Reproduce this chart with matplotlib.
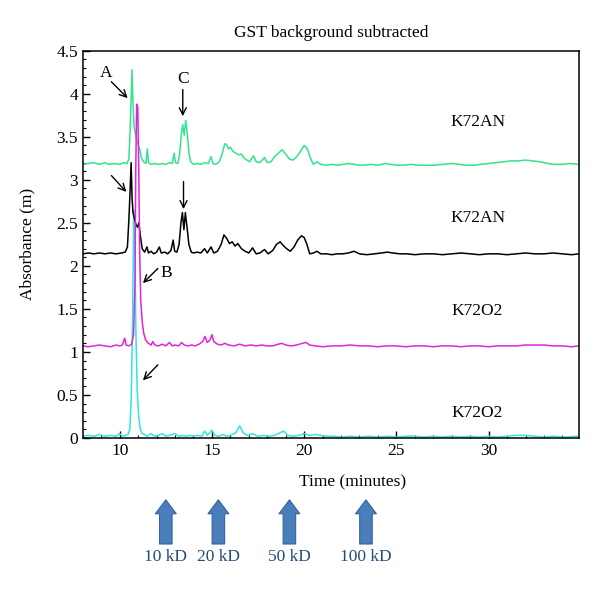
import matplotlib
matplotlib.use("Agg")
import matplotlib.pyplot as plt
from matplotlib.ticker import MultipleLocator

plt.rcParams["font.family"] = ["Liberation Serif", "DejaVu Serif"]
plt.rcParams["font.size"] = 12.5

# 트레이스 데이터
green_x = [8.0, 8.3, 8.6, 8.9, 9.2, 9.4, 9.7, 10.0, 10.2, 10.4, 10.5, 10.56, 10.62, 10.67, 10.71,
           10.78, 10.88, 10.98, 11.08, 11.18, 11.3, 11.42, 11.5, 11.56, 11.7, 11.9, 12.1, 12.3, 12.5,
           12.7, 12.85, 12.95, 13.02, 13.15, 13.25, 13.35, 13.42, 13.5, 13.58, 13.66, 13.75, 13.85,
           14.0, 14.2, 14.4, 14.6, 14.8, 14.95, 15.05, 15.2, 15.4, 15.55, 15.7, 15.8, 15.9, 16.0,
           16.15, 16.3, 16.45, 16.6, 16.75, 16.9, 17.05, 17.25, 17.4, 17.6, 17.85, 18.0, 18.2, 18.4,
           18.6, 18.8, 19.0, 19.2, 19.4, 19.6, 19.8, 20.0, 20.15, 20.35, 20.5, 20.7, 20.9, 21.2, 21.5,
           21.8, 22.1, 22.4, 22.7, 23.0, 23.3, 23.6, 24.0, 24.4, 24.7, 25.0, 25.4, 25.8, 26.2, 26.6,
           27.0, 27.5, 28.0, 28.4, 28.8, 29.2, 29.6, 30.0, 30.4, 30.8, 31.2, 31.6, 32.0, 32.4, 32.8,
           33.2, 33.6, 34.0, 34.4, 34.9]
green_y = [3.18, 3.19, 3.20, 3.18, 3.20, 3.18, 3.19, 3.18, 3.20, 3.19, 3.25, 3.55, 3.95, 4.28, 3.95,
           3.62, 3.50, 3.42, 3.36, 3.25, 3.21, 3.19, 3.36, 3.20, 3.18, 3.19, 3.18, 3.19, 3.18,
           3.20, 3.19, 3.31, 3.20, 3.19, 3.30, 3.55, 3.64, 3.52, 3.69, 3.55, 3.32, 3.21,
           3.18, 3.19, 3.18, 3.20, 3.19, 3.27, 3.19, 3.18, 3.21, 3.30, 3.42, 3.41, 3.36, 3.38,
           3.33, 3.31, 3.29, 3.30, 3.25, 3.23, 3.21, 3.28, 3.21, 3.20, 3.26, 3.20, 3.21, 3.27,
           3.31, 3.35, 3.30, 3.24, 3.23, 3.27, 3.33, 3.40, 3.37, 3.25, 3.18, 3.21, 3.18, 3.17, 3.18,
           3.17, 3.18, 3.19, 3.18, 3.17, 3.17, 3.18, 3.17, 3.19, 3.18, 3.17, 3.17, 3.18, 3.17, 3.17,
           3.17, 3.18, 3.19, 3.18, 3.17, 3.17, 3.18, 3.19, 3.20, 3.21, 3.22, 3.22, 3.23, 3.22, 3.21,
           3.19, 3.18, 3.18, 3.19, 3.18]

black_x = [8.0, 8.3, 8.6, 8.9, 9.2, 9.5, 9.8, 10.1, 10.3, 10.42, 10.5, 10.56, 10.62, 10.67, 10.72,
           10.8, 10.88, 10.96, 11.04, 11.12, 11.22, 11.35, 11.48, 11.56, 11.7, 11.85, 12.0, 12.15,
           12.25, 12.45, 12.6, 12.78, 12.9, 12.98, 13.1, 13.22, 13.32, 13.4, 13.48, 13.56, 13.65,
           13.75, 13.88, 14.0, 14.2, 14.4, 14.6, 14.75, 14.95, 15.1, 15.3, 15.5, 15.65, 15.8, 15.95,
           16.1, 16.25, 16.4, 16.6, 16.8, 17.0, 17.2, 17.4, 17.6, 17.85, 18.05, 18.3, 18.5, 18.7,
           18.85, 19.05, 19.25, 19.45, 19.65, 19.85, 20.0, 20.15, 20.3, 20.5, 20.7, 20.9, 21.2, 21.5,
           21.8, 22.1, 22.4, 22.7, 23.0, 23.4, 23.8, 24.2, 24.5, 24.8, 25.2, 25.6, 26.0, 26.5, 27.0,
           27.5, 28.0, 28.5, 29.0, 29.5, 30.0, 30.5, 31.0, 31.5, 32.0, 32.5, 33.0, 33.5, 34.0, 34.5,
           34.9]
black_y = [2.14, 2.15, 2.14, 2.15, 2.14, 2.15, 2.14, 2.15, 2.16, 2.22, 2.55, 2.85, 3.20, 2.80, 2.62,
           2.55, 2.48, 2.45, 2.50, 2.35, 2.20, 2.16, 2.22, 2.15, 2.17, 2.14, 2.16, 2.22,
           2.15, 2.16, 2.14, 2.18, 2.30, 2.17, 2.16, 2.25, 2.50, 2.62, 2.42, 2.62, 2.45,
           2.25, 2.16, 2.15, 2.16, 2.15, 2.20, 2.15, 2.22, 2.15, 2.17, 2.25, 2.36, 2.32, 2.26,
           2.28, 2.23, 2.26, 2.20, 2.17, 2.15, 2.21, 2.14, 2.15, 2.19, 2.14, 2.18, 2.25, 2.28,
           2.24, 2.20, 2.17, 2.22, 2.30, 2.35, 2.33, 2.25, 2.14, 2.15, 2.17, 2.14, 2.14, 2.13,
           2.14, 2.14, 2.15, 2.17, 2.14, 2.13, 2.14, 2.15, 2.16, 2.15, 2.14, 2.14, 2.13, 2.14, 2.14,
           2.13, 2.14, 2.15, 2.14, 2.13, 2.14, 2.14, 2.13, 2.14, 2.15, 2.14, 2.14, 2.15, 2.14, 2.13,
           2.14]

magenta_x = [8.0, 8.3, 8.6, 8.9, 9.2, 9.5, 9.8, 10.0, 10.15, 10.27, 10.35, 10.5, 10.65, 10.75, 10.83,
             10.87, 10.92, 10.98, 11.03, 11.08, 11.14, 11.22, 11.3, 11.4, 11.55, 11.7, 11.8, 11.9,
             12.1, 12.3, 12.5, 12.7, 12.85, 13.0, 13.2, 13.35, 13.5, 13.7, 13.9, 14.1, 14.3, 14.5,
             14.62, 14.75, 14.9, 15.0, 15.1, 15.3, 15.5, 15.7, 15.9, 16.2, 16.5, 16.8, 17.1, 17.4,
             17.7, 18.0, 18.3, 18.6, 18.8, 19.0, 19.3, 19.6, 19.9, 20.1, 20.3, 20.6, 21.0, 21.5, 22.0,
             22.5, 23.0, 23.5, 24.0, 24.5, 25.0, 25.5, 26.0, 26.5, 27.0, 27.5, 28.0, 28.5, 29.0, 29.5,
             30.0, 30.5, 31.0, 31.5, 32.0, 32.5, 33.0, 33.5, 34.0, 34.5, 34.9]
magenta_y = [1.07, 1.06, 1.07, 1.08, 1.07, 1.06, 1.08, 1.07, 1.08, 1.16, 1.08, 1.07, 1.09, 1.20, 1.80,
             3.10, 3.88, 3.85, 3.20, 2.20, 1.60, 1.35, 1.22, 1.14, 1.10, 1.08, 1.12, 1.08,
             1.07, 1.09, 1.07, 1.11, 1.07, 1.08, 1.07, 1.11, 1.08, 1.07, 1.08, 1.07, 1.09, 1.12,
             1.18, 1.11, 1.14, 1.20, 1.12, 1.09, 1.08, 1.10, 1.08, 1.07, 1.09, 1.07, 1.08, 1.07,
             1.08, 1.07, 1.07, 1.09, 1.10, 1.08, 1.07, 1.08, 1.10, 1.11, 1.08, 1.07, 1.06, 1.07, 1.07,
             1.08, 1.07, 1.07, 1.06, 1.07, 1.07, 1.06, 1.07, 1.07, 1.06, 1.07, 1.07, 1.06, 1.07, 1.07,
             1.06, 1.07, 1.07, 1.07, 1.08, 1.08, 1.08, 1.07, 1.07, 1.06, 1.07]

cyan_x = [8.0, 8.3, 8.6, 8.9, 9.2, 9.5, 9.8, 10.0, 10.15, 10.3, 10.45, 10.55, 10.63, 10.7, 10.76,
          10.82, 10.88, 10.95, 11.03, 11.12, 11.22, 11.35, 11.5, 11.7, 11.9, 12.1, 12.3, 12.5, 12.7,
          13.0, 13.2, 13.4, 13.6, 13.8, 14.0, 14.2, 14.45, 14.6, 14.75, 15.0, 15.15, 15.4, 15.6,
          15.8, 16.0, 16.3, 16.5, 16.7, 16.9, 17.2, 17.5, 17.8, 18.1, 18.4, 18.7, 18.9, 19.1, 19.4,
          19.7, 20.0, 20.3, 20.6, 20.9, 21.2, 21.6, 22.0, 22.5, 23.0, 23.5, 24.0, 24.5, 25.0, 25.5,
          26.0, 26.5, 27.0, 27.5, 28.0, 28.5, 29.0, 29.5, 30.0, 30.5, 31.0, 31.5, 32.0, 32.5, 33.0,
          33.5, 34.0, 34.9]
cyan_y = [0.02, 0.03, 0.02, 0.04, 0.02, 0.03, 0.02, 0.05, 0.02, 0.03, 0.04, 0.10, 0.50, 1.40, 2.65,
          2.30, 1.20, 0.55, 0.25, 0.10, 0.05, 0.04, 0.02, 0.05, 0.02, 0.03, 0.05, 0.02, 0.03,
          0.05, 0.02, 0.03, 0.02, 0.03, 0.02, 0.03, 0.02, 0.08, 0.03, 0.09, 0.03, 0.02, 0.04,
          0.02, 0.03, 0.06, 0.14, 0.06, 0.03, 0.05, 0.02, 0.03, 0.02, 0.03, 0.06, 0.08, 0.03, 0.02,
          0.03, 0.05, 0.03, 0.04, 0.03, 0.02, 0.02, 0.01, 0.02, 0.01, 0.02, 0.01, 0.02, 0.01, 0.02,
          0.02, 0.01, 0.02, 0.01, 0.02, 0.01, 0.02, 0.01, 0.02, 0.01, 0.02, 0.03, 0.03, 0.02, 0.01,
          0.02, 0.01, 0.02]

trace_labels = ["K72AN", "K72AN", "K72O2", "K72O2"]
label_y = [3.67, 2.56, 1.48, 0.29]

marker_x = [12.5, 15.35, 19.2, 23.35]
marker_labels = ["10 kD", "20 kD", "50 kD", "100 kD"]

y_ticks = [0, 0.5, 1, 1.5, 2, 2.5, 3, 3.5, 4, 4.5]
y_ticklabels = ["0", "0.5", "1", "1.5", "2", "2.5", "3", "3.5", "4", "4.5"]

fig = plt.figure(figsize=(6, 5.91), dpi=100)
ax = fig.add_axes([0.138, 0.259, 0.827, 0.655])

ax.plot(cyan_x, cyan_y, color="#35E3E3", lw=1.1)
ax.plot(black_x, black_y, color="black", lw=1.1)
ax.plot(green_x, green_y, color="#33E38D", lw=1.1)
ax.plot(magenta_x, magenta_y, color="#E024DC", lw=1.1)

ax.set_xlim(8, 34.9)
ax.set_ylim(0, 4.5)
ax.set_xticks([10, 15, 20, 25, 30])
ax.set_yticks(y_ticks)
ax.set_yticklabels(y_ticklabels)
ax.xaxis.set_minor_locator(MultipleLocator(1))
ax.yaxis.set_minor_locator(MultipleLocator(0.1))
ax.tick_params(which="both", direction="in", top=False, right=False, labelsize=12.5)
ax.tick_params(which="major", length=5, width=1)
ax.tick_params(which="minor", length=2.5, width=0.8)
for sp in ax.spines.values():
    sp.set_linewidth(1.1)

ax.set_title("GST background subtracted", fontsize=12.5, pad=10)
ax.set_xlabel("Time (minutes)", fontsize=12.5)
ax.xaxis.set_label_coords(0.544, -0.095)
ax.set_ylabel("Absorbance (m)", fontsize=12.5)
ax.yaxis.set_label_coords(-0.095, 0.5)

# 트레이스 이름
for lab, yy in zip(trace_labels, label_y):
    ax.text(29.4, yy, lab, ha="center", va="center", fontsize=12.5)

# 피크 화살표
arr = dict(arrowstyle="->", lw=1.0, color="black", shrinkA=0, shrinkB=0)
ax.text(9.28, 4.24, "A", ha="center", va="center", fontsize=12.5)
ax.annotate("", xy=(10.43, 3.95), xytext=(9.55, 4.14), arrowprops=arr)
ax.text(13.42, 4.17, "C", ha="center", va="center", fontsize=12.5)
ax.annotate("", xy=(13.42, 3.74), xytext=(13.42, 4.05), arrowprops=arr)
ax.annotate("", xy=(10.36, 2.86), xytext=(9.55, 3.05), arrowprops=arr)
ax.annotate("", xy=(13.46, 2.66), xytext=(13.46, 2.98), arrowprops=arr)
ax.text(12.52, 1.92, "B", ha="center", va="center", fontsize=12.5)
ax.annotate("", xy=(11.26, 1.80), xytext=(12.07, 1.97), arrowprops=arr)
ax.annotate("", xy=(11.26, 0.67), xytext=(12.07, 0.85), arrowprops=arr)

# 분자량 마커 (축 아래)
trans = ax.get_xaxis_transform()
for mx, ml in zip(marker_x, marker_labels):
    ax.annotate("", xy=(mx, -0.160), xytext=(mx, -0.274), xycoords=trans,
                textcoords=trans, annotation_clip=False,
                arrowprops=dict(arrowstyle="simple,head_width=0.75,head_length=0.5,tail_width=0.45",
                                mutation_scale=20, fc="#4A7EBB", ec="#35629A", lw=0.8,
                                shrinkA=0, shrinkB=0))
    ax.text(mx, -0.307, ml, transform=trans, ha="center", va="center",
            fontsize=12.5, color="#244A7A")

plt.savefig("out.png", dpi=100)
